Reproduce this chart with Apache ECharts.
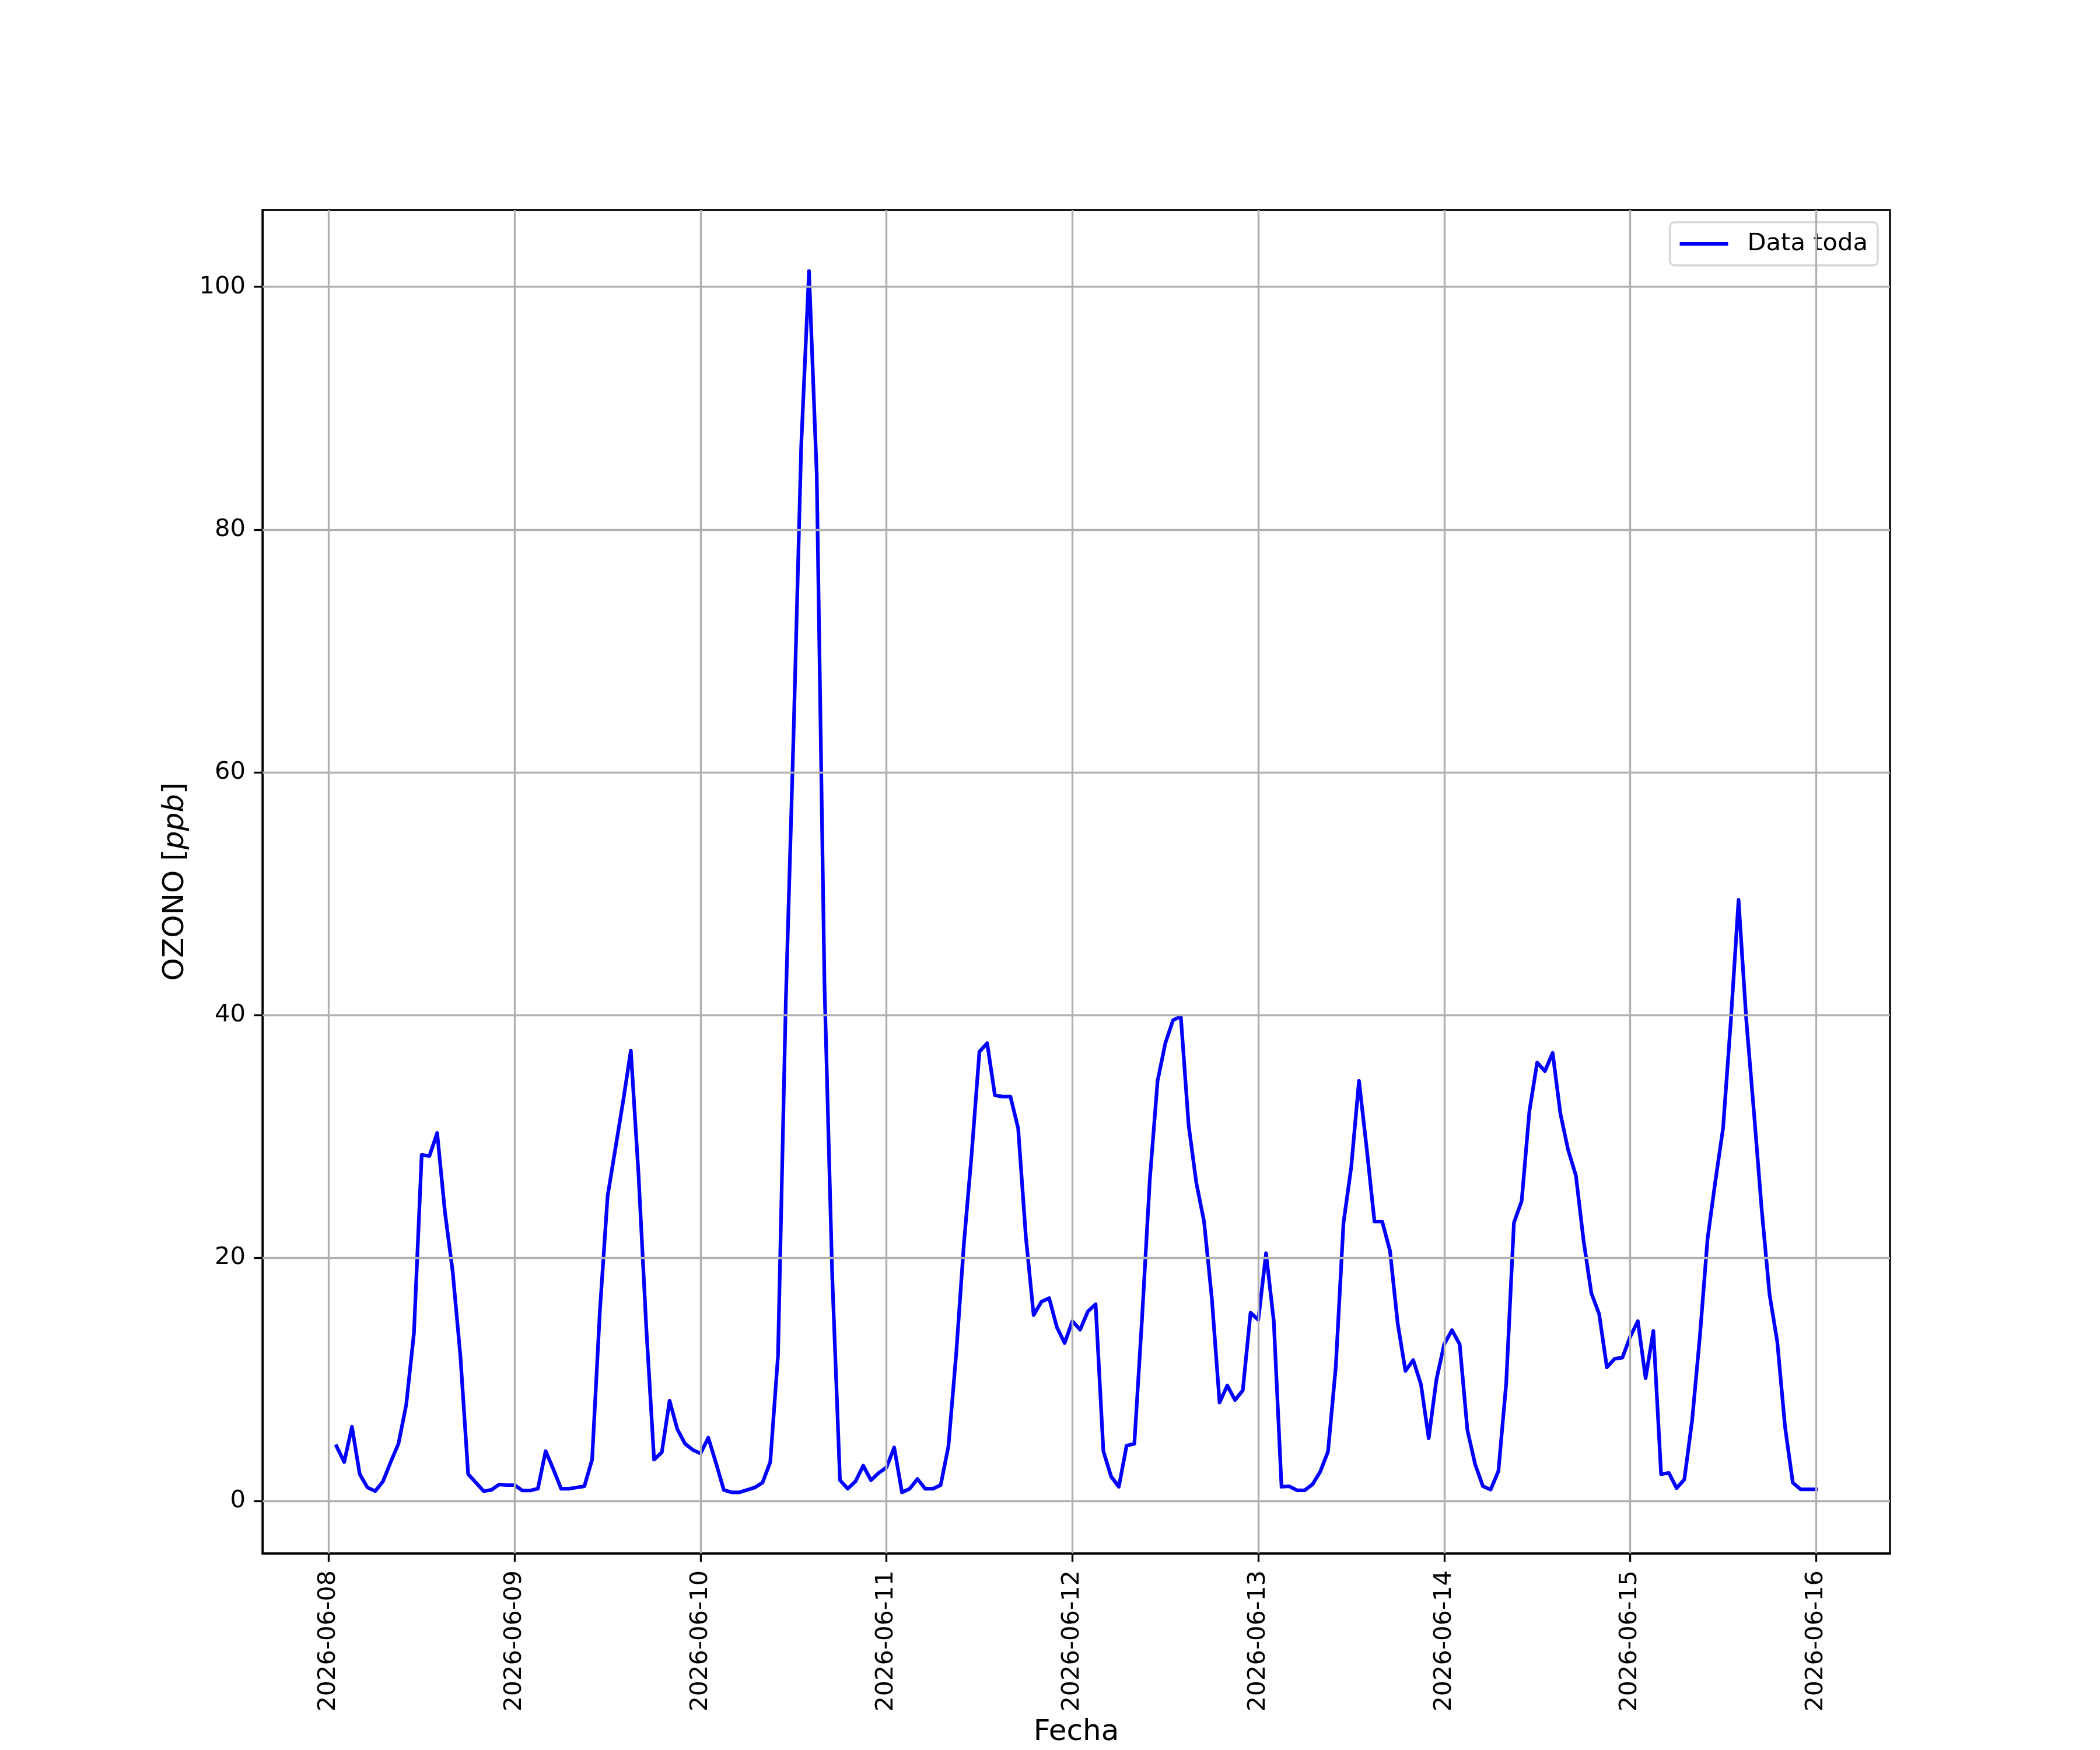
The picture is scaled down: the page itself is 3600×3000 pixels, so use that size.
<!DOCTYPE html>
<html>
<head>
<meta charset="utf-8">
<script src="https://cdn.jsdelivr.net/npm/echarts@6/dist/echarts.min.js"></script>
<style>
html,body{margin:0;padding:0;background:#fff;}
#chart{width:3600px;height:3000px;}
</style>
</head>
<body>
<div id="chart"></div>
<script>
// ---- data (hourly ozone, ppb), first sample 2026-06-08 01:00 ----
const seriesName = 'Data toda';
const firstSampleUTC = Date.UTC(2026, 5, 8, 1, 0, 0);
const stepHours = 1;
const ozone = [
  4.5, 3.2, 6.1, 2.2, 1.1, 0.8, 1.6, 3.2, 4.7, 7.9, 13.8, 28.5,
  28.4, 30.3, 23.8, 18.9, 11.9, 2.2, 1.5, 0.8, 0.9, 1.35, 1.3, 1.3,
  0.85, 0.85, 1.0, 4.1, 2.6, 1.0, 1.0, 1.1, 1.2, 3.4, 15.6, 25.1,
  29.0, 32.9, 37.1, 26.8, 14.2, 3.4, 4.0, 8.25, 5.9, 4.7, 4.2, 3.9,
  5.2, 3.1, 0.9, 0.7, 0.7, 0.9, 1.1, 1.5, 3.2, 12.0, 41.0, 63.0,
  87.0, 101.3, 84.5, 42.5, 18.5, 1.7, 1.0, 1.6, 2.9, 1.7, 2.3, 2.75,
  4.4, 0.7, 1.0, 1.8, 1.0, 1.0, 1.3, 4.5, 12.1, 21.2, 28.6, 37.0,
  37.7, 33.4, 33.3, 33.3, 30.7, 21.7, 15.3, 16.4, 16.7, 14.3, 13.0, 14.8,
  14.1, 15.6, 16.2, 4.1, 2.0, 1.16, 4.55, 4.7, 15.1, 26.5, 34.6, 37.7,
  39.6, 39.9, 31.0, 26.2, 23.0, 16.7, 8.1, 9.5, 8.3, 9.1, 15.5, 14.9,
  20.4, 14.8, 1.16, 1.2, 0.87, 0.87, 1.36, 2.4, 4.06, 11.0, 22.9, 27.5,
  34.6, 29.0, 23.0, 23.0, 20.6, 14.6, 10.7, 11.6, 9.6, 5.16, 10.0, 12.9,
  14.06, 12.9, 5.8, 3.0, 1.2, 0.93, 2.46, 9.65, 22.9, 24.7, 32.1, 36.1,
  35.4, 36.9, 31.9, 28.9, 26.8, 21.4, 17.1, 15.4, 11.0, 11.7, 11.8, 13.5,
  14.8, 10.1, 14.0, 2.2, 2.3, 1.05, 1.75, 6.6, 13.5, 21.6, 26.3, 30.7,
  39.5, 49.5, 39.6, 31.9, 23.9, 17.0, 13.1, 6.1, 1.5, 0.95, 0.95, 0.95
];
const xTickLabels = ['2026-06-08','2026-06-09','2026-06-10','2026-06-11','2026-06-12','2026-06-13','2026-06-14','2026-06-15','2026-06-16'];
const yTickValues = [0, 20, 40, 60, 80, 100];
const xAxisTitle = 'Fecha';

// ---- build ----
const HOUR = 3600000;
const pairs = ozone.map((v, i) => [firstSampleUTC + i * stepHours * HOUR, v]);
const xFirst = pairs[0][0], xLast = pairs[pairs.length - 1][0];
const xPad = (xLast - xFirst) * 0.05;
let yMinD = Infinity, yMaxD = -Infinity;
ozone.forEach(v => { yMinD = Math.min(yMinD, v); yMaxD = Math.max(yMaxD, v); });
const yPad = (yMaxD - yMinD) * 0.05;
const xTickValues = xTickLabels.map(s => Date.parse(s + 'T00:00:00Z'));
const labelOf = {};
xTickValues.forEach((t, i) => { labelOf[t] = xTickLabels[i]; });

const FONT = 'DejaVu Sans';
const LW = 3.33;
const gridMarks = xTickValues.map(t => ({ xAxis: t })).concat(yTickValues.map(v => ({ yAxis: v })));

const chart = echarts.init(document.getElementById('chart'), null, { renderer: 'canvas', width: 3600, height: 3000 });
chart.setOption({
  animation: false,
  backgroundColor: '#ffffff',
  textStyle: { fontFamily: FONT, color: '#000' },
  grid: {
    left: 450, right: 360, top: 360, bottom: 330,
    show: true, borderColor: '#000', borderWidth: LW, backgroundColor: 'transparent', containLabel: false
  },
  legend: {
    data: [seriesName],
    right: 381, top: 381,
    orient: 'vertical',
    icon: 'rect',
    itemWidth: 83, itemHeight: 6.25,
    padding: [12, 17, 12, 17],
    backgroundColor: 'rgba(255,255,255,0.8)',
    borderColor: 'rgba(204,204,204,0.8)',
    borderWidth: LW,
    borderRadius: 8,
    textStyle: { fontFamily: FONT, fontSize: 41.67, color: '#000', padding: [0, 0, 0, 28], lineHeight: 50 }
  },
  xAxis: {
    type: 'value',
    min: xFirst - xPad,
    max: xLast + xPad,
    name: xAxisTitle,
    nameLocation: 'middle',
    nameGap: 282,
    nameTextStyle: { fontFamily: FONT, fontSize: 50, color: '#000' },
    axisLine: { show: true, onZero: false, lineStyle: { color: '#000', width: LW } },
    axisTick: { show: true, inside: false, length: 14.6, lineStyle: { color: '#000', width: LW }, customValues: xTickValues },
    axisLabel: {
      show: true, rotate: 90, margin: 29, fontFamily: FONT, fontSize: 41.67, color: '#000',
      customValues: xTickValues,
      formatter: v => labelOf[v] || ''
    },
    splitLine: { show: false }
  },
  yAxis: {
    type: 'value',
    min: yMinD - yPad,
    max: yMaxD + yPad,
    name: '{a|OZONO [}{b|ppb}{a|]}',
    nameLocation: 'middle',
    nameRotate: 90,
    nameGap: 124,
    nameTextStyle: {
      fontFamily: FONT, fontSize: 50, color: '#000',
      rich: {
        a: { fontFamily: FONT, fontSize: 50, color: '#000' },
        b: { fontFamily: FONT, fontSize: 50, color: '#000', fontStyle: 'italic' }
      }
    },
    axisLine: { show: true, onZero: false, lineStyle: { color: '#000', width: LW } },
    axisTick: { show: true, inside: false, length: 14.6, lineStyle: { color: '#000', width: LW }, customValues: yTickValues },
    axisLabel: {
      show: true, margin: 29, fontFamily: FONT, fontSize: 41.67, color: '#000',
      customValues: yTickValues,
      formatter: v => String(Math.round(v))
    },
    splitLine: { show: false }
  },
  series: [
    {
      name: '_grid',
      type: 'line',
      data: pairs,
      z: 1,
      silent: true,
      showSymbol: false,
      lineStyle: { opacity: 0 },
      tooltip: { show: false },
      markLine: {
        silent: true,
        symbol: ['none', 'none'],
        label: { show: false },
        emphasis: { disabled: true },
        lineStyle: { color: '#b0b0b0', width: LW, type: 'solid' },
        data: gridMarks
      }
    },
    {
      name: seriesName,
      type: 'line',
      data: pairs,
      z: 3,
      showSymbol: false,
      symbol: 'none',
      color: '#0000ff',
      lineStyle: { color: '#0000ff', width: 6.25, cap: 'square', join: 'round' },
      emphasis: { disabled: true }
    }
  ]
});
</script>
</body>
</html>
